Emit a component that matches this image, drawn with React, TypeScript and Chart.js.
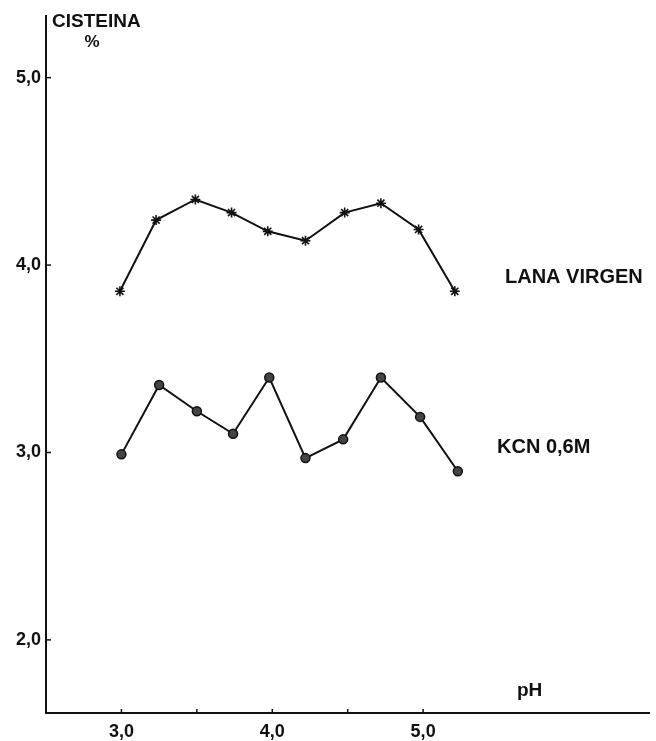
import React, { useEffect, useRef } from "react";
import { Chart, registerables } from "chart.js";

Chart.register(...registerables);

const lanaPH = [2.99, 3.23, 3.49, 3.73, 3.97, 4.22, 4.48, 4.72, 4.97, 5.21];
const lanaVirgen = [3.86, 4.24, 4.35, 4.28, 4.18, 4.13, 4.28, 4.33, 4.19, 3.86];
const kcnPH = [3.0, 3.25, 3.5, 3.74, 3.98, 4.22, 4.47, 4.72, 4.98, 5.23];
const kcn = [2.99, 3.36, 3.22, 3.1, 3.4, 2.97, 3.07, 3.4, 3.19, 2.9];
const yTicks = [2, 3, 4, 5];
const xTicks = [3, 4, 5];
const xMinorTicks = [3, 3.5, 4, 4.5, 5];

const FONT = "'Liberation Sans', Arial, sans-serif";
const fmt = (v: number) => v.toFixed(1).replace(".", ",");

const annotations = {
  id: "annotations",
  afterDraw(chart: any) {
    const ctx = chart.ctx;
    const xs = chart.scales.x;
    const ys = chart.scales.y;
    ctx.save();
    ctx.strokeStyle = "#111";
    ctx.lineWidth = 1.5;
    yTicks.forEach((v) => {
      const y = ys.getPixelForValue(v);
      ctx.beginPath();
      ctx.moveTo(xs.left, y);
      ctx.lineTo(xs.left + 5, y);
      ctx.stroke();
    });
    xMinorTicks.forEach((v) => {
      const x = xs.getPixelForValue(v);
      ctx.beginPath();
      ctx.moveTo(x, ys.bottom);
      ctx.lineTo(x, ys.bottom - 4);
      ctx.stroke();
    });
    ctx.fillStyle = "#111";
    ctx.textBaseline = "middle";
    ctx.textAlign = "left";
    ctx.font = `bold 19px ${FONT}`;
    ctx.fillText("CISTEINA", 52, 22);
    ctx.textAlign = "center";
    ctx.font = `bold 17px ${FONT}`;
    ctx.fillText("%", 92, 42);
    ctx.textAlign = "left";
    ctx.font = `bold 20px ${FONT}`;
    ctx.fillText("LANA VIRGEN", 505, 277);
    ctx.fillText("KCN 0,6M", 497, 447);
    ctx.font = `bold 19px ${FONT}`;
    ctx.fillText("pH", 517, 691);
    ctx.restore();
  },
};

export default function App() {
  const ref = useRef<HTMLCanvasElement>(null);
  useEffect(() => {
    if (!ref.current) return;
    const chart = new Chart(ref.current, {
      type: "line",
      data: {
        datasets: [
          {
            label: "LANA VIRGEN",
            data: lanaPH.map((x, i) => ({ x, y: lanaVirgen[i] })),
            borderColor: "#111",
            borderWidth: 2,
            pointStyle: "star",
            pointRadius: 5,
            pointBorderWidth: 1.6,
            pointBorderColor: "#111",
            pointBackgroundColor: "#111",
            tension: 0,
          },
          {
            label: "KCN 0,6M",
            data: kcnPH.map((x, i) => ({ x, y: kcn[i] })),
            borderColor: "#111",
            borderWidth: 2,
            pointStyle: "circle",
            pointRadius: 4.5,
            pointBorderWidth: 1.5,
            pointBorderColor: "#111",
            pointBackgroundColor: "#444",
            tension: 0,
          },
        ],
      },
      options: {
        responsive: false,
        animation: false,
        devicePixelRatio: 1,
        layout: { padding: { top: 10, left: 0, right: 0, bottom: 0 } },
        plugins: { legend: { display: false }, tooltip: { enabled: false } },
        scales: {
          x: {
            type: "linear",
            min: 2.5,
            max: 6.5,
            afterBuildTicks: (s: any) => {
              s.ticks = xTicks.map((v) => ({ value: v }));
            },
            afterFit: (s: any) => {
              s.height = 28;
              s.paddingRight = 0;
              s.paddingLeft = 0;
            },
            ticks: {
              callback: (v: any) => fmt(Number(v)),
              color: "#111",
              font: { family: FONT, size: 18, weight: "bold" },
              padding: 8,
              maxRotation: 0,
            },
            grid: { display: false, drawTicks: false },
            border: { display: true, color: "#111", width: 2 },
          },
          y: {
            type: "linear",
            min: 1.61,
            max: 5.33,
            afterBuildTicks: (s: any) => {
              s.ticks = yTicks.map((v) => ({ value: v }));
            },
            afterFit: (s: any) => {
              s.width = 46;
            },
            ticks: {
              callback: (v: any) => fmt(Number(v)),
              color: "#111",
              font: { family: FONT, size: 18, weight: "bold" },
              padding: 5,
            },
            grid: { display: false, drawTicks: false },
            border: { display: true, color: "#111", width: 2 },
          },
        },
      },
      plugins: [annotations],
    });
    return () => chart.destroy();
  }, []);
  return (
    <div style={{ position: "absolute", left: 0, top: 0, width: 656, height: 741, background: "#fff" }}>
      <canvas ref={ref} width={656} height={741} />
    </div>
  );
}
